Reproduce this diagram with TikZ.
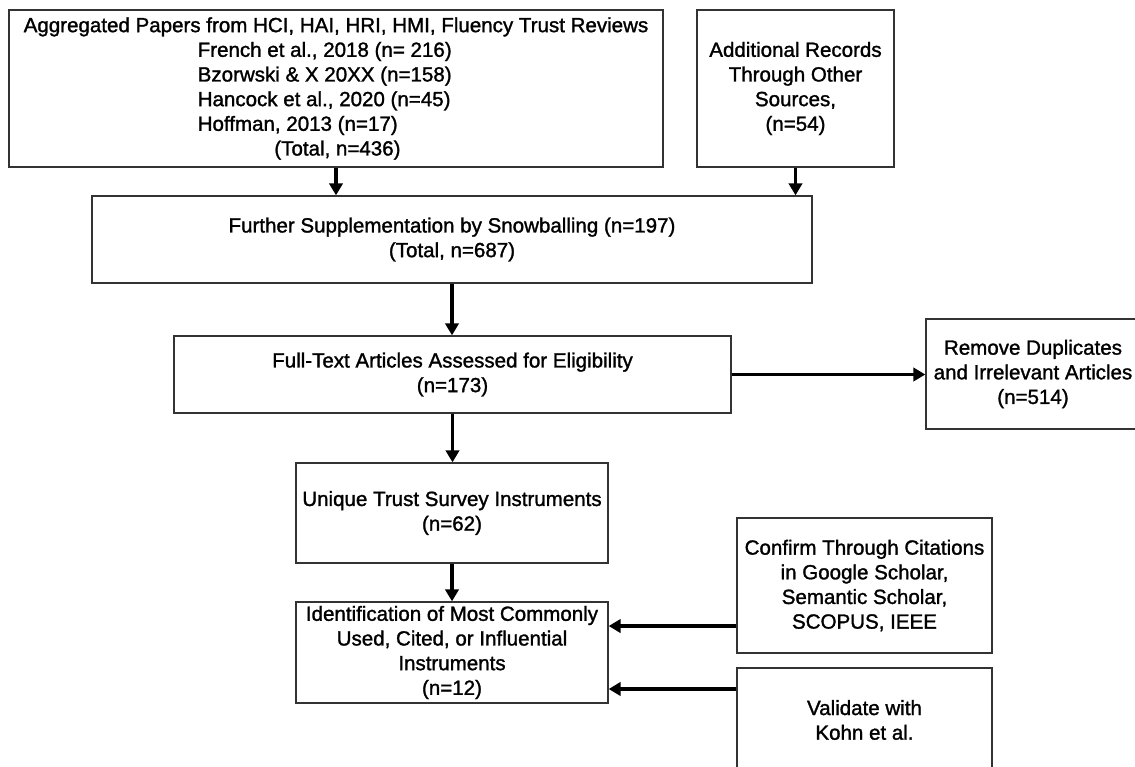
\documentclass[tikz,border=0pt]{standalone}
\usepackage{fontspec}
\setmainfont{Liberation Sans}[BoldFont=Liberation Sans, BoldFeatures={FakeBold=1.4}]
\usepackage{tikz}
\usetikzlibrary{arrows.meta}
\definecolor{boxline}{HTML}{333333}

\begin{document}
\begin{tikzpicture}[x=0.75pt, y=-0.75pt,
    font=\fontsize{15.4pt}{18.5pt}\selectfont\bfseries,
    box/.style={draw=boxline, line width=1pt, align=center, inner sep=0pt},
    arr/.style={line width=2.4pt, -{Triangle[length=9pt, width=10pt]}}]
    \useasboundingbox (0,0) rectangle (1135,767);

    % Sources (top row)
    \node[box, minimum width=490.5pt, minimum height=117.75pt, align=left] (papers) at (336,88.5)
      {Aggregated Papers from HCI, HAI, HRI, HMI, Fluency Trust Reviews\\
       \hspace*{130.5pt}French et al., 2018 (n= 216)\\
       \hspace*{130.5pt}Bzorwski \& X 20XX (n=158)\\
       \hspace*{130.5pt}Hancock et al., 2020 (n=45)\\
       \hspace*{130.5pt}Hoffman, 2013 (n=17)\\
       \hspace*{188pt}(Total, n=436)};
    \node[box, minimum width=147.75pt, minimum height=117.75pt] (other) at (795.5,88.5)
      {Additional Records\\Through Other\\Sources,\\(n=54)};

    % Main column
    \node[box, minimum width=540pt, minimum height=65.25pt] (snowball) at (452,239.5)
      {Further Supplementation by Snowballing (n=197)\\(Total, n=687)};
    \node[box, minimum width=417.75pt, minimum height=57.75pt] (fulltext) at (452.5,374.5)
      {Full-Text Articles Assessed for Eligibility\\(n=173)};
    \node[box, minimum width=234pt, minimum height=75pt] (unique) at (452,513)
      {Unique Trust Survey Instruments\\(n=62)};
    \node[box, minimum width=234pt, minimum height=75.75pt] (common) at (452,652.5)
      {Identification of Most Commonly\\Used, Cited, or Influential\\Instruments\\(n=12)};

    % Side boxes
    \node[box, minimum width=160.5pt, minimum height=82.5pt] (removed) at (1033,374)
      {Remove Duplicates\\and Irrelevant Articles\\(n=514)};
    \node[box, minimum width=191.25pt, minimum height=101.25pt] (confirm) at (864.5,585.5)
      {Confirm Through Citations\\in Google Scholar,\\Semantic Scholar,\\SCOPUS, IEEE};
    \node[box, minimum width=191.25pt, minimum height=78pt] (validate) at (864.5,720)
      {Validate with\\Kohn et al.};

    % Arrows
    \draw[arr] (papers.south) -- (papers.south |- snowball.north);
    \draw[arr] (other.south) -- (other.south |- snowball.north);
    \draw[arr] (snowball.south) -- (snowball.south |- fulltext.north);
    \draw[arr] (fulltext.east) -- (fulltext.east -| removed.west);
    \draw[arr] (fulltext.south) -- (fulltext.south |- unique.north);
    \draw[arr] (unique.south) -- (unique.south |- common.north);
    \draw[arr] ([yshift=-30.4pt]confirm.west) -- ([yshift=-30.4pt]confirm.west -| common.east);
    \draw[arr] ([yshift=23.25pt]validate.west) -- ([yshift=23.25pt]validate.west -| common.east);
\end{tikzpicture}
\end{document}
